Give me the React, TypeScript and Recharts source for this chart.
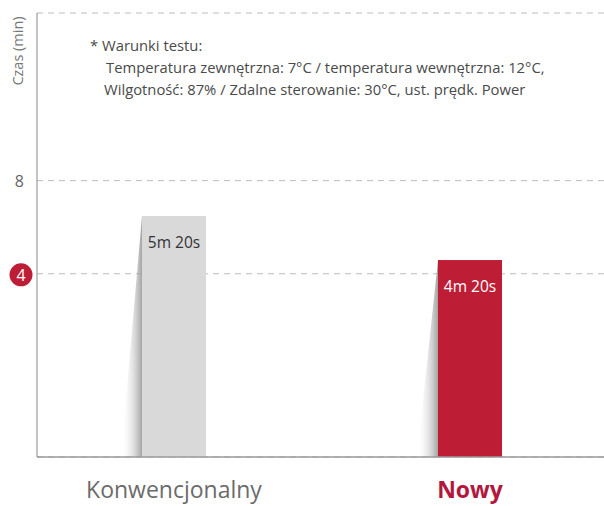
import React from 'react';
import { BarChart, Bar, XAxis, YAxis, CartesianGrid, Label } from 'recharts';

const categories = ['Konwencjonalny', 'Nowy'];
const positions = [0, 1];
// bar heights as drawn, in axis units (the drawing is schematic)
const barValues = [6.48, 4.59];
const barLabels = ['5m 20s', '4m 20s'];
const yTicks = [4, 8];
const notes = [
  '* Warunki testu:',
  'Temperatura zewnętrzna: 7°C / temperatura wewnętrzna: 12°C,',
  'Wilgotność: 87% / Zdalne sterowanie: 30°C, ust. prędk. Power',
];

const Y_MIN = -3.87;
const Y_MAX = 15.2;
const FONT = '"Open Sans", sans-serif';
const RED = '#be1d36';

const data = categories.map((name, i) => ({
  name,
  pos: positions[i],
  range: [Y_MIN, barValues[i]],
  label: barLabels[i],
}));

const BarShape = (props: any) => {
  const { x, y, width, height, index } = props;
  const fill = index === 1 ? RED : '#d9d9d9';
  return (
    <g>
      <polygon
        points={`${x},${y} ${x},${y + height} ${x - 21},${y + height}`}
        fill="url(#shadowGrad)"
      />
      <rect x={x} y={y} width={width} height={height} fill={fill} />
      <text
        x={x + width / 2}
        y={y + 32}
        textAnchor="middle"
        fontSize={15.5}
        fontFamily={FONT}
        fill={index === 1 ? '#fff' : '#333'}
      >
        {barLabels[index]}
      </text>
    </g>
  );
};

const YTick = (props: any) => {
  const { x, y, payload } = props;
  if (payload.value === 4) {
    return (
      <g>
        <circle cx={21} cy={y + 1} r={11.5} fill={RED} />
        <text x={21} y={y + 7} textAnchor="middle" fontSize={16} fontFamily={FONT} fill="#fff">
          4
        </text>
      </g>
    );
  }
  return (
    <text x={x - 5} y={y + 6} textAnchor="end" fontSize={16} fontFamily={FONT} fill="#666">
      {payload.value}
    </text>
  );
};

const XTick = (props: any) => {
  const { x, payload } = props;
  const i = positions.indexOf(payload.value);
  const isNew = i === 1;
  return (
    <text
      x={x}
      y={498}
      textAnchor="middle"
      fontSize={23}
      fontFamily={FONT}
      fontWeight={isNew ? 700 : 400}
      fill={isNew ? '#b3173d' : '#6b6b6b'}
    >
      {categories[i]}
    </text>
  );
};

export default function App() {
  return (
    <div style={{ position: 'absolute', left: 0, top: 0, width: 604, height: 506, background: '#fff' }}>
      <BarChart
        width={604}
        height={506}
        data={data}
        margin={{ top: 13, right: 0, left: 0, bottom: 0 }}
      >
        <defs>
          <linearGradient id="shadowGrad" x1="0" y1="0" x2="1" y2="0">
            <stop offset="0%" stopColor="#ffffff" stopOpacity={0} />
            <stop offset="100%" stopColor="#9a9a9a" stopOpacity={0.9} />
          </linearGradient>
        </defs>
        <CartesianGrid vertical={false} stroke="#bdbdbd" strokeDasharray="6 5" />
        <XAxis
          type="number"
          dataKey="pos"
          domain={[-0.4628, 1.4527]}
          ticks={positions}
          height={49}
          tick={<XTick />}
          tickLine={false}
          axisLine={{ stroke: '#9a9a9a', strokeWidth: 1.5 }}
        />
        <YAxis
          type="number"
          domain={[Y_MIN, Y_MAX]}
          ticks={yTicks}
          width={37}
          tick={<YTick />}
          tickLine={false}
          axisLine={{ stroke: '#888' }}
        >
          <Label
            content={() => (
              <text
                x={0}
                y={0}
                transform="translate(23 51) rotate(-90)"
                textAnchor="middle"
                fontSize={14.5}
                fontFamily={FONT}
                fill="#777"
              >
                Czas (min)
              </text>
            )}
          />
        </YAxis>
        <Bar dataKey="range" barSize={64} shape={<BarShape />} isAnimationActive={false} />
        <g>
          {notes.map((t, i) => (
            <text
              key={i}
              x={i === 0 ? 90 : i === 1 ? 106 : 104}
              y={51 + i * 22}
              fontSize={14.8}
              fontFamily={FONT}
              fill="#4a4a4a"
            >
              {t}
            </text>
          ))}
        </g>
      </BarChart>
    </div>
  );
}
